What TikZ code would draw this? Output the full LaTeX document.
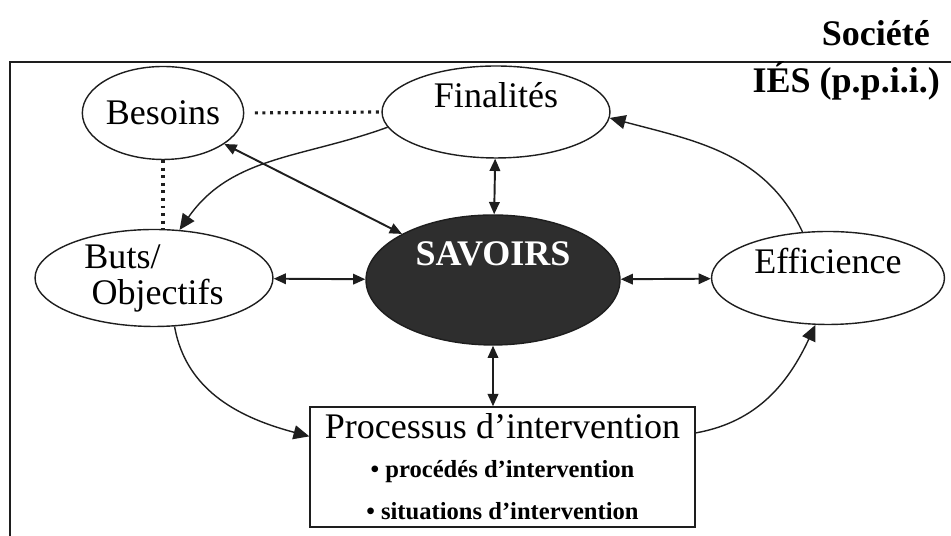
\documentclass[tikz,border=0pt]{standalone}
\usepackage{fontspec}
\setmainfont{Liberation Serif}
\usetikzlibrary{arrows.meta,shapes.geometric}
\definecolor{SavDark}{HTML}{2E2E2E}
\definecolor{InkGray}{HTML}{1E1E1E}
\newcommand{\bigfont}{\fontsize{20.5}{20.5}\selectfont}
\newcommand{\itemfont}{\fontsize{14}{24}\selectfont\bfseries}
\tikzset{
  bubble/.style={ellipse, draw=InkGray, line width=0.8pt, inner sep=0pt},
  lift/.style={text height=14pt, text depth=#1},
  flow/.style={draw=InkGray, line width=0.8pt, -{Triangle[length=9pt,width=8pt]}},
  link/.style={draw=InkGray, line width=1.1pt, {Triangle[length=7pt,width=6pt]}-{Triangle[length=7pt,width=6pt]}},
  dotline/.style={draw=InkGray, line width=1.8pt, dash pattern=on 1.7pt off 2.6pt},
}

\begin{document}
\begin{tikzpicture}[x=0.02cm, y=0.02cm, font=\bigfont]
        \useasboundingbox (0,0) rectangle (951,536);
        % open frame and the two outer labels
        \draw[InkGray, line width=1pt] (10,0) -- (10,474) -- (951,474);
        \node[anchor=base east, font=\bigfont\bfseries] (soc) at (936,490) {Société};
        \node[anchor=base east, font=\bigfont\bfseries] (ies) at (946,443) {IÉS (p.p.i.i.)};
        % ellipses
        \node[bubble, minimum width=2.86cm, minimum height=1.86cm] (bes) at (163,423) {Besoins};
        \node[bubble, lift=19pt, minimum width=4.56cm, minimum height=1.84cm] (fin) at (496,424) {Finalités};
        \node[bubble, align=left, minimum width=4.76cm, minimum height=1.94cm] (buts) at (154,258) {Buts/\\\hspace*{4pt}Objectifs};
        \node[bubble, fill=SavDark, text=white, font=\bigfont\bfseries, lift=30.6pt, minimum width=5.08cm, minimum height=2.6cm] (sav) at (493,256) {SAVOIRS};
        \node[bubble, lift=19pt, minimum width=4.66cm, minimum height=1.86cm] (eff) at (828,258) {Efficience};
        % intervention box
        \node[draw=InkGray, line width=0.8pt, minimum width=7.7cm, minimum height=2.4cm, inner sep=0pt, align=center, font=\fontsize{20.5}{24}\selectfont] (proc) at (502.5,69)
          {Processus d’intervention\\[-2pt]{\itemfont • procédés d’intervention}\\{\itemfont • situations d’intervention}};
        % dotted links
        \draw[dotline, shorten <=6pt] (bes.east) -- (fin.west);
        \draw[dotline] (bes.south) -- (bes.south |- buts.north);
        % links to the centre
        \draw[link] (bes) -- (sav);
        \draw[link] (fin) -- (sav);
        \draw[link] (buts) -- (sav);
        \draw[link] (sav) -- (eff);
        \draw[link] (sav.south) -- (sav.south |- proc.north);
        % outer cycle
        \draw[flow] (fin.188) to[out=200, in=55] (buts.62);
        \draw[flow] (buts.-67) to[out=-80, in=165] (proc.171);
        \draw[flow] (proc.10) to[out=10, in=245] (eff.255);
        \draw[flow] (eff.119) to[out=115, in=-15] (fin.-3);
      \end{tikzpicture}
\end{document}
